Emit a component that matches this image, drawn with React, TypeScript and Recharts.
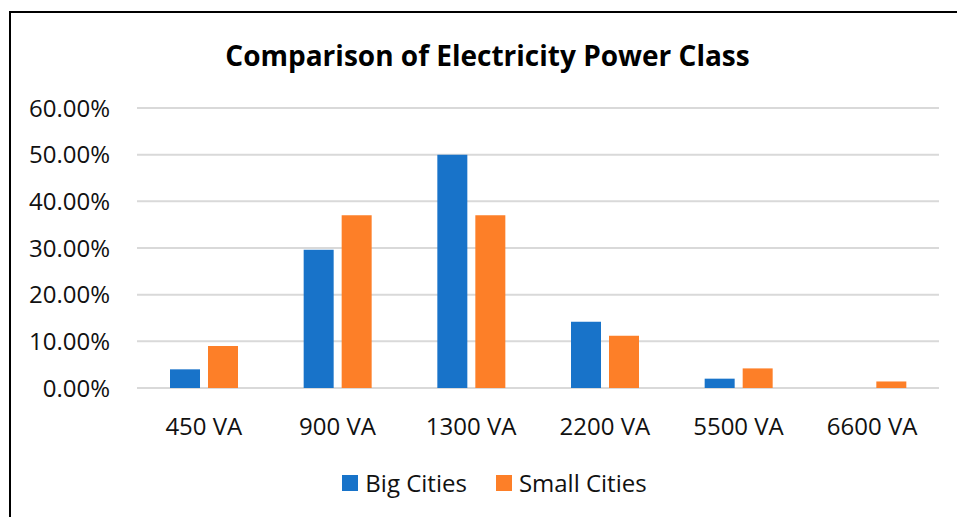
import React from "react";
import { Bar, BarChart, CartesianGrid, Legend, XAxis, YAxis } from "recharts";

const categories = ["450 VA", "900 VA", "1300 VA", "2200 VA", "5500 VA", "6600 VA"];
const bigCities = [4.0, 29.6, 50.0, 14.2, 2.0, 0];
const smallCities = [9.0, 37.0, 37.0, 11.2, 4.2, 1.4];
const yTicks = [0, 10, 20, 30, 40, 50, 60];

const BLUE = "#1873c9";
const ORANGE = "#fd7f28";
const FONT = "'Open Sans', sans-serif";

const data = categories.map((name, i) => ({
  name,
  big: bigCities[i],
  small: smallCities[i],
}));

function LegendBox() {
  const items = [
    { label: "Big Cities", color: BLUE },
    { label: "Small Cities", color: ORANGE },
  ];
  return (
    <div
      style={{
        height: 30,
        display: "flex",
        justifyContent: "center",
        alignItems: "center",
        gap: 29,
        marginLeft: 39,
        fontFamily: FONT,
        fontSize: 24,
        color: "#111",
      }}
    >
      {items.map((it) => (
        <div key={it.label} style={{ display: "flex", alignItems: "center", gap: 7 }}>
          <span style={{ width: 16, height: 16, background: it.color, display: "inline-block" }} />
          <span style={{ lineHeight: "30px" }}>{it.label}</span>
        </div>
      ))}
    </div>
  );
}

export default function App() {
  return (
    <div
      style={{
        position: "fixed",
        left: 0,
        top: 0,
        width: 957,
        height: 517,
        overflow: "hidden",
        background: "#fff",
      }}
    >
      <div
        style={{
          position: "absolute",
          left: 9,
          top: 11,
          width: 953,
          height: 520,
          border: "2px solid #000",
          background: "#fff",
        }}
      >
        <div
          style={{
            position: "absolute",
            left: 0,
            top: 23,
            width: 953,
            textAlign: "center",
            fontFamily: FONT,
            fontWeight: 700,
            fontSize: 28,
            color: "#000",
          }}
        >
          Comparison of Electricity Power Class
        </div>
        <BarChart
          width={953}
          height={500}
          data={data}
          margin={{ top: 95, right: 25, left: 0, bottom: 15 }}
          barSize={30}
          barGap={8}
        >
          <CartesianGrid vertical={false} stroke="#d9d9d9" strokeWidth={2} />
          <XAxis
            dataKey="name"
            height={80}
            axisLine={false}
            tickLine={false}
            tickSize={0}
            tickMargin={30}
            interval={0}
            tick={{ fontFamily: FONT, fontSize: 24, fill: "#111" }}
          />
          <YAxis
            width={126}
            domain={[0, 60]}
            ticks={yTicks}
            axisLine={false}
            tickLine={false}
            tickSize={0}
            tickMargin={27}
            tickFormatter={(v: number) => v.toFixed(2) + "%"}
            tick={{ fontFamily: FONT, fontSize: 24, fill: "#111" }}
          />
          <Legend verticalAlign="bottom" content={() => <LegendBox />} />
          <Bar dataKey="big" name="Big Cities" fill={BLUE} isAnimationActive={false} />
          <Bar dataKey="small" name="Small Cities" fill={ORANGE} isAnimationActive={false} />
        </BarChart>
      </div>
    </div>
  );
}
